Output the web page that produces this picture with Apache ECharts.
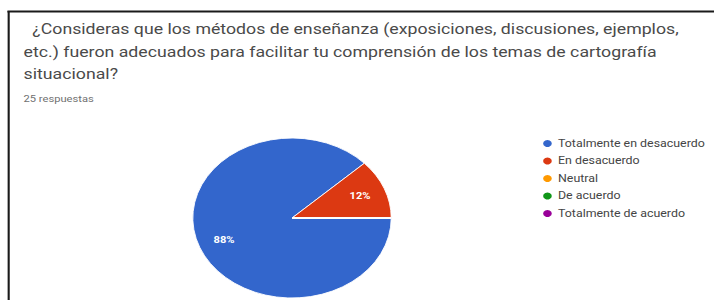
<!DOCTYPE html>
<html>
<head>
<meta charset="utf-8">
<script src="https://cdn.jsdelivr.net/npm/echarts@6/dist/echarts.min.js"></script>
<style>
  html, body { margin: 0; padding: 0; background: #fff; overflow: hidden; }
  /* the reference is a horizontally stretched screenshot, so the whole chart is stretched */
  #chart { width: 576px; height: 300px; transform: scaleX(1.24); transform-origin: 0 0; }
</style>
</head>
<body>
<div id="chart"></div>
<script>
const titleLines = [
  '  ¿Consideras que los métodos de enseñanza (exposiciones, discusiones, ejemplos,',
  'etc.) fueron adecuados para facilitar tu comprensión de los temas de cartografía',
  'situacional?'
];
const responsesText = '25 respuestas';
const categories = ['Totalmente en desacuerdo', 'En desacuerdo', 'Neutral', 'De acuerdo', 'Totalmente de acuerdo'];
const counts = [22, 3, 0, 0, 0];
const colors = ['#3366cc', '#dc3912', '#ff9900', '#109618', '#990099'];

const pieData = categories.map((name, i) => ({ name, value: counts[i] }));
const pctLabel = p => (p.value ? Math.round(p.percent) + '%' : '');

const chart = echarts.init(document.getElementById('chart'), null, { renderer: 'svg' });
chart.setOption({
  animation: false,
  color: colors,
  title: [
    {
      text: titleLines.join('\n'),
      left: 19, top: 18, padding: 0,
      textStyle: { fontFamily: 'Roboto', fontSize: 14.3, fontWeight: 'normal', color: '#4a4a4a', lineHeight: 22.5 }
    },
    {
      text: responsesText,
      left: 19, top: 94, padding: 0,
      textStyle: { fontFamily: 'Roboto', fontSize: 9, fontWeight: 'normal', color: '#707070' }
    }
  ],
  legend: {
    orient: 'vertical',
    left: 431, top: 133,
    icon: 'circle',
    itemWidth: 9, itemHeight: 10,
    itemGap: 6.5,
    data: categories,
    textStyle: { fontFamily: 'Roboto', fontSize: 10, color: '#444', padding: [0, 0, 0, -1] },
    selectedMode: false
  },
  graphic: [
    { type: 'line', shape: { x1: 6, y1: 11.5, x2: 576, y2: 11.5 }, style: { stroke: '#1a1a1a', lineWidth: 2 } },
    { type: 'line', shape: { x1: 7, y1: 11, x2: 7, y2: 300 }, style: { stroke: '#1a1a1a', lineWidth: 1.7 } }
  ],
  series: [
    {
      type: 'pie',
      center: [235.5, 218],
      radius: [0, 80],
      startAngle: 0,
      clockwise: true,
      data: pieData,
      label: { show: false },
      labelLine: { show: false },
      itemStyle: { borderColor: '#fff', borderWidth: 0.8 },
      silent: true
    },
    {
      // label carrier: same slices, transparent, so percentages sit at ~0.7 of the radius
      type: 'pie',
      center: [235.5, 218],
      radius: [32, 80],
      startAngle: 0,
      clockwise: true,
      data: pieData,
      itemStyle: { color: 'transparent' },
      label: {
        show: true, position: 'inside', formatter: pctLabel,
        color: '#fff', fontFamily: 'Roboto', fontSize: 9, fontWeight: 'bold'
      },
      labelLine: { show: false },
      silent: true
    }
  ]
});
</script>
</body>
</html>
